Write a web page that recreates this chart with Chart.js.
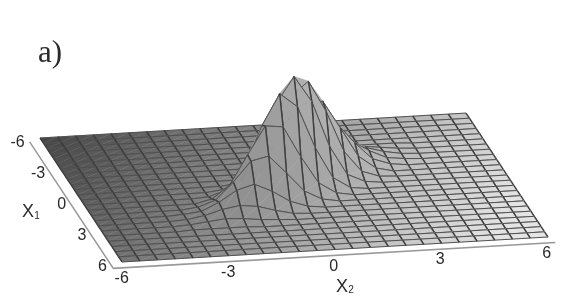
<!DOCTYPE html>
<html>
<head>
<meta charset="utf-8">
<style>
html, body { margin: 0; padding: 0; background: #fff; }
canvas { display: block; }
</style>
<script src="https://cdn.jsdelivr.net/npm/chart.js@4"></script>
</head>
<body>
<canvas id="chart" width="574" height="307"></canvas>
<script>
// grid values on both axes
const x1Values = [-6, -5.5, -5, -4.5, -4, -3.5, -3, -2.5, -2, -1.5, -1, -0.5, 0, 0.5, 1, 1.5, 2, 2.5, 3, 3.5, 4, 4.5, 5, 5.5, 6];
const x2Values = [-6, -5.5, -5, -4.5, -4, -3.5, -3, -2.5, -2, -1.5, -1, -0.5, 0, 0.5, 1, 1.5, 2, 2.5, 3, 3.5, 4, 4.5, 5, 5.5, 6];
const x1Ticks = [-6, -3, 0, 3, 6];
const x2Ticks = [-6, -3, 0, 3, 6];

// surface height, one row per x1 value, one column per x2 value
const heights = [
    [0,0,0,0,0,0,0,0,0,0,0,0,0,0,0,0,0,0,0,0,0,0,0,0,0],
    [0,0,0,0,0,0,0,0,0,0,0,0,0,0,0,0,0,0,0,0,0,0,0,0,0],
    [0,0,0,0,0,0,0,0,0,0,0,0,0,0,0,0,0,0,0,0,0,0,0,0,0],
    [0,0,0,0,0,0,0,0,0,0,0,0,0,0,0,0,0,0,0,0,0,0,0,0,0],
    [0,0,0,0,0,0,0,0,0,0,0,0,0,0,0,0,0,0,0,0,0,0,0,0,0],
    [0,0,0,0,0,0,0,0,0,0,0,0,0,0,0,0,1,1,1,1,0,0,0,0,0],
    [0,0,0,0,0,0,0,0,0,0,0,0,0,0,1,2,4,5,3,1,0,0,0,0,0],
    [0,0,0,0,0,0,0,0,0,0,0,0,0,1,5,10,12,9,4,1,0,0,0,0,0],
    [0,0,0,0,0,0,0,0,0,0,0,0,2,8,19,27,22,11,3,1,0,0,0,0,0],
    [0,0,0,0,0,0,0,0,0,0,0,3,12,31,49,45,25,8,2,0,0,0,0,0,0],
    [0,0,0,0,0,0,0,0,0,0,3,14,41,72,74,46,17,4,0,0,0,0,0,0,0],
    [0,0,0,0,0,0,0,0,0,2,13,44,86,100,69,28,7,1,0,0,0,0,0,0,0],
    [0,0,0,0,0,0,0,0,2,10,39,85,111,85,39,10,2,0,0,0,0,0,0,0,0],
    [0,0,0,0,0,0,0,1,7,28,69,100,86,44,13,2,0,0,0,0,0,0,0,0,0],
    [0,0,0,0,0,0,0,4,17,46,74,72,41,14,3,0,0,0,0,0,0,0,0,0,0],
    [0,0,0,0,0,0,2,8,25,45,49,31,12,3,0,0,0,0,0,0,0,0,0,0,0],
    [0,0,0,0,0,1,3,11,22,27,19,8,2,0,0,0,0,0,0,0,0,0,0,0,0],
    [0,0,0,0,0,1,4,9,12,10,5,1,0,0,0,0,0,0,0,0,0,0,0,0,0],
    [0,0,0,0,0,1,3,5,4,2,1,0,0,0,0,0,0,0,0,0,0,0,0,0,0],
    [0,0,0,0,0,1,1,1,1,0,0,0,0,0,0,0,0,0,0,0,0,0,0,0,0],
    [0,0,0,0,0,0,0,0,0,0,0,0,0,0,0,0,0,0,0,0,0,0,0,0,0],
    [0,0,0,0,0,0,0,0,0,0,0,0,0,0,0,0,0,0,0,0,0,0,0,0,0],
    [0,0,0,0,0,0,0,0,0,0,0,0,0,0,0,0,0,0,0,0,0,0,0,0,0],
    [0,0,0,0,0,0,0,0,0,0,0,0,0,0,0,0,0,0,0,0,0,0,0,0,0],
    [0,0,0,0,0,0,0,0,0,0,0,0,0,0,0,0,0,0,0,0,0,0,0,0,0]
];

// oblique projection of (x1, x2, height) on the flat plane of the chart
function proyectar(x1, x2, z) {
    return {
        x: 294 + 35.5 * x2 + 6.83 * x1,
        y: 187.5 - 2.08 * x2 + 10.33 * x1 - z
    };
}

// tono de gris de cada celda: oscuro atras a la izquierda, claro a la derecha
function tono(i, j) {
    const base = 72 + 124 * (j / 23) + 44 * (i / 23);
    const pendiente = heights[i + 1][j] - heights[i][j] + (heights[i][j] - heights[i][j + 1]) * 0.3;
    const g = Math.max(40, Math.min(228, Math.round(base + pendiente * 0.3 + heights[i][j] * 0.14)));
    return 'rgb(' + g + ',' + g + ',' + g + ')';
}

function triangulo(p, q, r, color) {
    return {
        data: [p, q, r, p],
        showLine: true,
        fill: 'shape',
        backgroundColor: color,
        borderColor: color,
        borderWidth: 0.4,
        pointRadius: 0,
        clip: false
    };
}

function aristas(puntos, color, ancho) {
    return {
        data: puntos,
        showLine: true,
        fill: false,
        borderColor: color,
        borderWidth: ancho,
        pointRadius: 0,
        clip: false
    };
}

const corte = { x: null, y: null };
const datasets = [];

// Chart.js paints the last dataset first, so the front cells go in first
for (let i = x1Values.length - 2; i >= 0; i--) {
    for (let j = 0; j < x2Values.length - 1; j++) {
        const a = proyectar(x1Values[i], x2Values[j], heights[i][j]);
        const b = proyectar(x1Values[i], x2Values[j + 1], heights[i][j + 1]);
        const c = proyectar(x1Values[i + 1], x2Values[j + 1], heights[i + 1][j + 1]);
        const d = proyectar(x1Values[i + 1], x2Values[j], heights[i + 1][j]);
        const color = tono(i, j);
        datasets.push(aristas([a, d, corte, b, c], '#3e3e3e', 1.4));
        datasets.push(aristas([a, b, corte, d, c], '#505050', 1));
        datasets.push(triangulo(b, c, d, color));
        datasets.push(triangulo(a, b, d, color));
    }
}

// floor axes, drawn just outside the surface
datasets.push(aristas([proyectar(-5.7, -6.35, 0), proyectar(6.55, -6.35, 0), proyectar(6.55, 6.1, 0)], '#999999', 1.5));

const textos = {
    id: 'textos',
    afterDraw(chart) {
        const ctx = chart.ctx;
        const sx = chart.scales.x;
        const sy = chart.scales.y;
        const escribir = (txt, x, y, font) => {
            ctx.font = font;
            ctx.fillText(txt, sx.getPixelForValue(x), sy.getPixelForValue(y));
        };
        ctx.save();
        ctx.fillStyle = '#2a2a2a';
        ctx.textAlign = 'center';
        ctx.textBaseline = 'middle';

        x1Ticks.forEach(t => {
            const p = proyectar(t, -6.35, 0);
            escribir(String(t), p.x - (t < 0 ? 10 : 7), p.y + 4, '16px "Liberation Sans"');
        });
        x2Ticks.forEach(t => {
            const p = proyectar(6.55, t, 0);
            escribir(String(t), p.x - (t < 0 ? 4 : 5), p.y + 11, '16px "Liberation Sans"');
        });

        escribir('X', 28, 212, '18px "Liberation Sans"');
        escribir('1', 37, 216, '10px "Liberation Sans"');
        escribir('X', 342, 287, '18px "Liberation Sans"');
        escribir('2', 351, 290, '10px "Liberation Sans"');
        escribir('a)', 50, 54, '31px "Liberation Serif"');
        ctx.restore();
    }
};

new Chart(document.getElementById('chart'), {
    type: 'scatter',
    data: { datasets: datasets },
    options: {
        responsive: false,
        animation: false,
        events: [],
        layout: { padding: 0 },
        plugins: {
            legend: { display: false },
            tooltip: { enabled: false }
        },
        scales: {
            x: { type: 'linear', min: 0, max: 574, display: false },
            y: { type: 'linear', min: 0, max: 307, reverse: true, display: false }
        }
    },
    plugins: [textos]
});
</script>
</body>
</html>
